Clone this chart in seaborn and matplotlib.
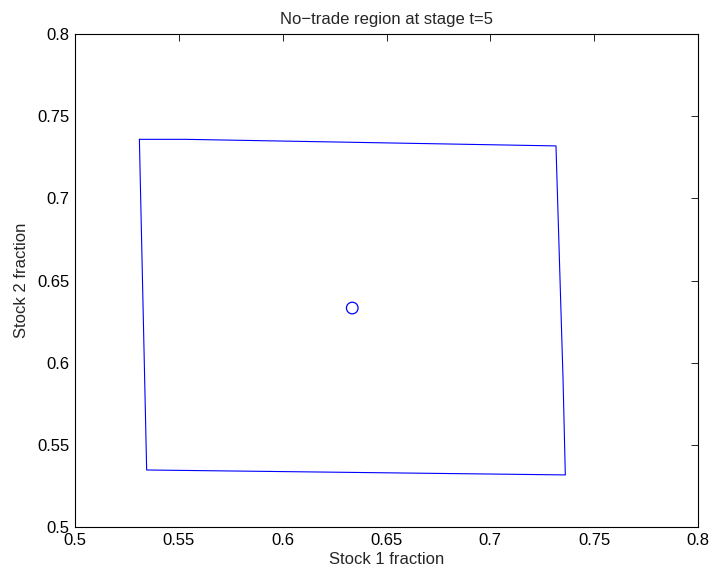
import matplotlib
matplotlib.use("Agg")
import matplotlib.pyplot as plt
import seaborn as sns
import pandas as pd

# Polygon (no-trade region boundary) vertices, closed
stock1 = [0.531, 0.553, 0.7316, 0.7350, 0.7361, 0.5345, 0.531]
stock2 = [0.736, 0.736, 0.7320, 0.5900, 0.5317, 0.5347, 0.736]
# Center point
center_x = [0.6335]
center_y = [0.6333]

tick_vals = [0.5, 0.55, 0.6, 0.65, 0.7, 0.75, 0.8]
tick_labels = ["0.5", "0.55", "0.6", "0.65", "0.7", "0.75", "0.8"]

sns.set_style("white")
plt.rcParams['font.family'] = ['Liberation Sans', 'DejaVu Sans']

fig = plt.figure(figsize=(7.13, 5.72), dpi=100)
ax = fig.add_axes([0.1052, 0.0787, 0.8738, 0.8615])

poly = pd.DataFrame({"x": stock1, "y": stock2})
sns.lineplot(data=poly, x="x", y="y", sort=False, estimator=None,
             color=(0, 0, 1), linewidth=0.8, ax=ax)
pt = pd.DataFrame({"x": center_x, "y": center_y})
sns.scatterplot(data=pt, x="x", y="y", marker="o", s=70, facecolors="none",
                edgecolor=(0, 0, 1), linewidth=0.9, ax=ax)

ax.set_xlim(0.5, 0.8)
ax.set_ylim(0.5, 0.8)
ax.set_xticks(tick_vals)
ax.set_xticklabels(tick_labels)
ax.set_yticks(tick_vals)
ax.set_yticklabels(tick_labels)
ax.tick_params(direction="in", length=5, width=0.6, top=True, right=True,
               labelsize=12, pad=4, colors="black")
for s in ax.spines.values():
    s.set_visible(True)
    s.set_color("black")
    s.set_linewidth(0.8)
ax.set_xlabel("Stock 1 fraction", fontsize=12, labelpad=3)
ax.set_ylabel("Stock 2 fraction", fontsize=12, labelpad=6)
ax.set_title("No\u2212trade region at stage t=5", fontsize=12, pad=7)

fig.savefig("out.png", dpi=100)
